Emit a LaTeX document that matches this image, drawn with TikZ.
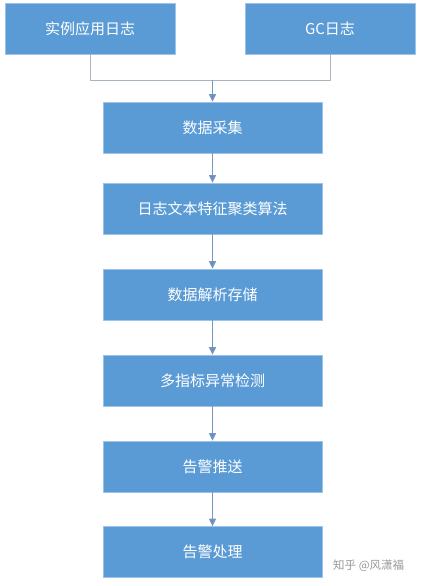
\documentclass[tikz,border=0pt]{standalone}
\usepackage{fontspec}
\newfontfamily\cjk{Noto Sans CJK SC}
\usetikzlibrary{arrows.meta}
\definecolor{boxblue}{HTML}{5B9BD5}
\definecolor{linegray}{HTML}{A9B4C2}
\definecolor{tipblue}{HTML}{6A8FBF}
\tikzset{
  stepbox/.style={draw=boxblue!60!white, line width=0.6pt, fill=boxblue, text=white,
    minimum height=51pt, inner sep=0pt, font=\cjk\fontsize{15}{17}\selectfont},
  flow/.style={draw=tipblue!80!linegray, line width=1pt, -{Triangle[width=7pt,length=7.5pt,fill=tipblue]}}
}
\begin{document}
\begin{tikzpicture}[x=1pt, y=-1pt, line join=round]
  \useasboundingbox (0,0) rectangle (421,586);
  \fill[white] (0,0) rectangle (421,586);
  % the two sources
  \node[stepbox, minimum width=170pt] (app) at (90,28.5) {实例应用日志};
  \node[stepbox, minimum width=170pt] (gc) at (330,28.5) {GC日志};
  % the chain
  \foreach \n/\y/\t in {s1/127.5/数据采集, s2/208.5/日志文本特征聚类算法, s3/294.5/数据解析存储,
      s4/380.5/多指标异常检测, s5/466.5/告警推送, s6/552/告警处理}
    \node[stepbox, minimum width=219pt] (\n) at (212.5,\y) {\t};
  \path (app.south) ++(0,26) coordinate (jl)
        (gc.south) ++(0,26) coordinate (jr)
        (jl -| s1) coordinate (jm);
  \draw[linegray, line width=1pt] (app.south) -- (jl) -- (jr) -- (gc.south);
  \draw[flow] (jm) -- (s1.north);
  \foreach \a/\b in {s1/s2, s2/s3, s3/s4, s4/s5, s5/s6}
    \draw[flow] (\a.south) -- (\b.north);
  \node[text=black!40, font=\cjk\fontsize{11.5}{13}\selectfont, anchor=west, inner sep=0pt] (mark) at (333,566) {知乎 @风潇福};
\end{tikzpicture}
\end{document}
